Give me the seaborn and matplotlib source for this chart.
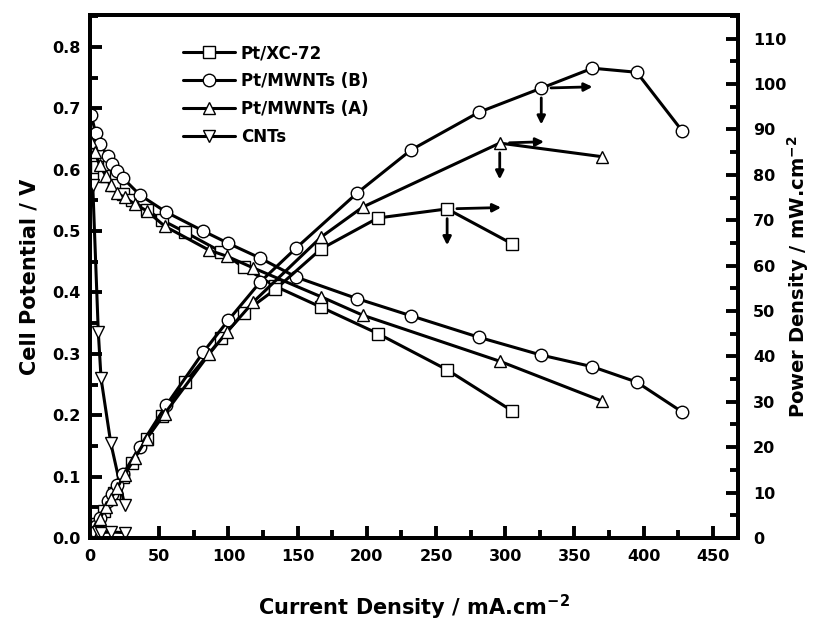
import numpy as np
import seaborn as sns
from matplotlib import pyplot as plt
from matplotlib.ticker import MultipleLocator

# Pt/XC-72 (squares)
i_xc = [1, 5, 10, 17, 24, 30, 41, 52, 69, 95, 111, 134, 167, 208, 258, 305]
v_xc = [0.62, 0.605, 0.59, 0.575, 0.56, 0.55, 0.535, 0.518, 0.498, 0.466, 0.441, 0.41, 0.376, 0.333, 0.274, 0.207]
p_xc = [0.6, 3.0, 5.9, 9.8, 13.4, 16.5, 21.9, 26.9, 34.4, 44.0, 49.6, 54.8, 63.7, 70.5, 72.5, 64.8]

# Pt/MWNTs (B) (circles)
i_b = [1, 4, 7, 13, 16, 19.5, 24, 36, 55, 82, 100, 123, 149, 193, 232, 281, 326, 363, 395, 428]
v_b = [0.689, 0.66, 0.642, 0.622, 0.609, 0.598, 0.586, 0.559, 0.531, 0.5, 0.48, 0.456, 0.425, 0.39, 0.362, 0.327, 0.298, 0.279, 0.254, 0.205]
p_b = [0.7, 2.6, 4.5, 8.1, 9.7, 11.7, 14.1, 20.1, 29.2, 41.0, 48.0, 56.4, 63.9, 76.0, 85.5, 93.8, 99.1, 103.5, 102.6, 89.6]

# Pt/MWNTs (A) (up triangles)
i_a = [1, 3.6, 7, 11.5, 15, 19.5, 25, 32.5, 41, 54, 86, 99, 118, 167, 197, 296, 370]
v_a = [0.645, 0.629, 0.607, 0.59, 0.575, 0.562, 0.555, 0.544, 0.533, 0.508, 0.469, 0.459, 0.44, 0.393, 0.363, 0.288, 0.223]
p_a = [0.6, 2.3, 4.2, 6.8, 8.6, 11.0, 13.9, 17.7, 21.9, 27.4, 40.5, 45.4, 52.0, 66.3, 72.9, 87.0, 84.0]

# CNTs (down triangles)
i_cnt = [2, 6, 8, 15, 25]
v_cnt = [0.575, 0.336, 0.26, 0.155, 0.054]
p_cnt = [1.1, 1.3, 1.2, 1.3, 1.2]

# points marked with arrows (current density) and arrow lengths
arrow_at = [258, 326, 296]
arrow_dx = [39, 37, 32]

series = [
    ('Pt/XC-72', 's', i_xc, v_xc, p_xc),
    ('Pt/MWNTs (B)', 'o', i_b, v_b, p_b),
    ('Pt/MWNTs (A)', '^', i_a, v_a, p_a),
    ('CNTs', 'v', i_cnt, v_cnt, p_cnt),
]

sns.set_style('ticks')
plt.rcParams['font.family'] = ['DejaVu Sans']
plt.rcParams['font.weight'] = 'bold'
plt.rcParams['mathtext.default'] = 'bf'
for key in ['text.color', 'axes.labelcolor', 'xtick.color', 'ytick.color', 'axes.edgecolor']:
    plt.rcParams[key] = 'black'

fig = plt.figure(figsize=(8.18, 6.21), dpi=100)
ax = fig.add_axes([0.110, 0.1337, 0.792, 0.842])
ax2 = ax.twinx()

style = dict(color='black', lw=2.2, markersize=9, markerfacecolor='white',
             markeredgecolor='black', markeredgewidth=1.0)

for name, m, i, v, p in series:
    sns.lineplot(x=i, y=v, ax=ax, marker=m, label=name, **style)
    sns.lineplot(x=i, y=p, ax=ax2, marker=m, legend=False, **style)

# arrows: to the right axis and down to the x axis
arrow = dict(arrowstyle='-|>', color='black', lw=2, shrinkA=7, shrinkB=0, mutation_scale=12)
for (name, m, i, v, p), xa, dx in zip(series[:3], arrow_at, arrow_dx):
    k = i.index(xa)
    ax2.annotate('', xy=(i[k] + dx, p[k] + 0.3), xytext=(i[k], p[k]), arrowprops=arrow)
    ax2.annotate('', xy=(i[k], p[k] - 8), xytext=(i[k], p[k]), arrowprops=arrow)

ax.set_xlim(0, 468)
ax.set_ylim(0, 0.852)
ax2.set_ylim(0, 115.2)

ax.xaxis.set_major_locator(MultipleLocator(50))
ax.xaxis.set_minor_locator(MultipleLocator(25))
ax.yaxis.set_major_locator(MultipleLocator(0.1))
ax.yaxis.set_minor_locator(MultipleLocator(0.05))
ax2.yaxis.set_major_locator(MultipleLocator(10))
ax2.yaxis.set_minor_locator(MultipleLocator(5))
ax.yaxis.set_major_formatter(plt.FormatStrFormatter('%.1f'))

for a in (ax, ax2):
    for s in a.spines.values():
        s.set_linewidth(2.8)
    a.tick_params(which='major', direction='in', length=8.5, width=2.8, labelsize=11.5)
    a.tick_params(which='minor', direction='in', length=5.5, width=2.8)
ax.tick_params(axis='y', pad=7)
ax.tick_params(axis='x', pad=8)
ax2.tick_params(axis='y', pad=11)
ax.tick_params(top=False)

ax.set_xlabel(r'Current Density / mA.cm$^{-2}$', fontsize=15, fontweight='bold')
ax.set_ylabel('Cell Potential / V', fontsize=15, fontweight='bold')
ax2.set_ylabel(r'Power Density / mW.cm$^{-2}$', fontsize=14, fontweight='bold')
ax.xaxis.set_label_coords(0.5, -0.105)
ax.yaxis.set_label_coords(-0.078, 0.5)
ax2.yaxis.set_label_coords(1.073, 0.5)

ax.legend(loc='upper left', bbox_to_anchor=(0.1335, 0.957), frameon=False, fontsize=12,
          handlelength=3.1, labelspacing=0.6, handletextpad=0.36, borderaxespad=0)

fig.savefig('out.png', dpi=100)
